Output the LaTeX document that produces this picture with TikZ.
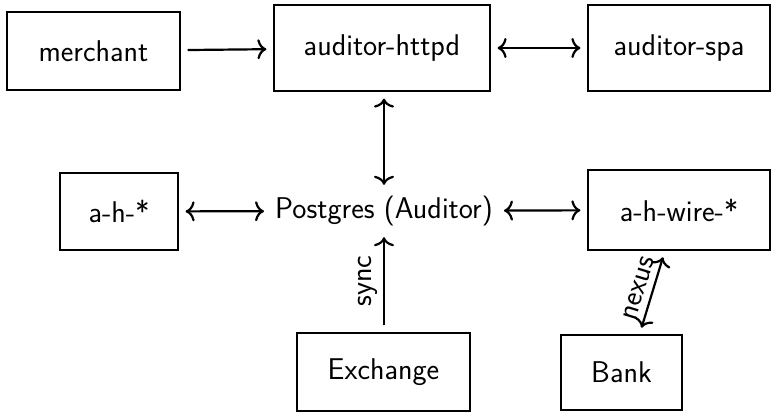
\documentclass[tikz,border=0pt]{standalone}
\usetikzlibrary{arrows.meta,calc}
\begin{document}
\begin{tikzpicture}[x=1pt,y=-1pt,
  font=\sffamily\fontsize{30}{36}\selectfont,
  box/.style={draw, line width=1.2pt, inner sep=0pt, anchor=center},
  link/.style={line width=2.2pt, shorten >=7pt, shorten <=7pt},
  >={To[length=9pt,width=20pt]}]
\useasboundingbox (0,0) rectangle (776,415);
% components
\node[box, minimum width=173pt, minimum height=78pt] (merchant) at (93.5,51) {merchant};
\node[box, minimum width=216pt, minimum height=86pt] (httpd) at (382,48) {auditor-httpd};
\node[box, minimum width=182pt, minimum height=86pt] (spa) at (679,48) {auditor-spa};
\node[box, minimum width=118pt, minimum height=77pt] (ah) at (119,211.5) {a-h-*};
\node[inner sep=4pt] (pg) at (384,211) {Postgres (Auditor)};
\node[box, minimum width=182pt, minimum height=80pt] (wire) at (679,210) {a-h-wire-*};
\node[box, minimum width=173pt, minimum height=78pt] (exchange) at (383.5,372) {Exchange};
\node[box, minimum width=121pt, minimum height=75pt] (bank) at (621.5,372.5) {Bank};
% connections
\draw[link,->] (merchant) -- (httpd);
\draw[link,<->] (httpd) -- (spa);
\draw[link,<->] (httpd.south -| pg.north) -- (pg.north);
\draw[link,<->] (ah) -- (pg);
\draw[link,<->] (pg) -- (wire);
\draw[link,->] (exchange.north -| pg.south) -- node[sloped, above, inner sep=5pt] {sync} (pg.south);
\draw[link,<->] ([xshift=18pt]bank.north) -- node[sloped, above, inner sep=6pt] {nexus} ([xshift=-14pt]wire.south);
\end{tikzpicture}
\end{document}
